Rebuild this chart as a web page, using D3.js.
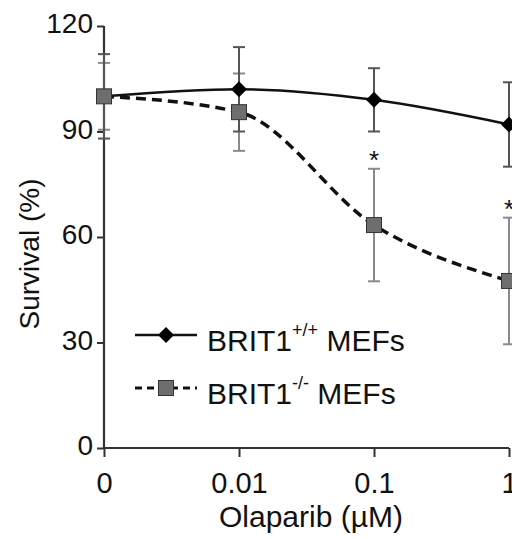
<!DOCTYPE html>
<html>
<head>
<meta charset="utf-8">
<script src="https://cdn.jsdelivr.net/npm/d3@7.9.0/dist/d3.min.js"></script>
<style>
  body { margin: 0; background: #fff; }
  svg { display: block; font-family: "Liberation Sans", Arial, sans-serif; }
</style>
</head>
<body>
<svg id="chart" width="512" height="539"></svg>
<script>
// doses (uM), shown as evenly spaced categories
const doses = ["0", "0.01", "0.1", "1"];
const yTicks = [0, 30, 60, 90, 120];

// BRIT1 +/+ MEFs
const wtMean = [100, 102, 99, 92];
const wtErr = [12, 12, 9, 12];

// BRIT1 -/- MEFs
const koMean = [100, 95.5, 63.4, 47.5];
const koErr = [9.5, 11, 16, 18];

// significance marks (dose -> y value of the star)
const starDoses = ["0.1", "1"];
const starY = [84, 70];

const svg = d3.select("#chart");
const tickFont = 28;
const titleFont = 30;

let x = d3.scalePoint().domain(doses).range([104, 509]);
let y = d3.scaleLinear().domain([0, 120]).range([448, 26]);

// axes
let yAxis = svg.append("g")
    .attr("transform", "translate(104,0)")
    .call(d3.axisLeft(y).tickValues(yTicks).tickSize(7).tickPadding(4));
yAxis.select(".domain").attr("stroke", "#333").attr("stroke-width", 2.2).attr("d", `M0,${y(120)}V${y(0)}`);
yAxis.selectAll(".tick line").attr("stroke", "#333").attr("stroke-width", 2);
yAxis.selectAll(".tick text").attr("font-size", tickFont).attr("fill", "#111")
    .attr("font-family", "Liberation Sans, Arial, sans-serif").attr("dy", "0.24em");

let xAxis = svg.append("g")
    .attr("transform", `translate(0,${y(0)})`)
    .call(d3.axisBottom(x).tickSize(9).tickPadding(15));
xAxis.select(".domain").attr("stroke", "#333").attr("stroke-width", 2.2).attr("d", `M${x("0")},0H${x("1")}`);
xAxis.selectAll(".tick line").attr("stroke", "#333").attr("stroke-width", 2);
xAxis.selectAll(".tick text").attr("font-size", 29).attr("fill", "#111")
    .attr("font-family", "Liberation Sans, Arial, sans-serif");

// axis titles
svg.append("text")
    .attr("x", 311).attr("y", 527)
    .attr("text-anchor", "middle")
    .attr("font-size", titleFont).attr("fill", "#111")
    .text("Olaparib (\u00b5M)");

svg.append("text")
    .attr("transform", "translate(39,254) rotate(-90)")
    .attr("text-anchor", "middle")
    .attr("font-size", 28).attr("fill", "#111")
    .text("Survival (%)");

// error bars
function drawErrors(means, errs, color, width) {
    let g = svg.append("g").attr("stroke", color).attr("stroke-width", width).attr("fill", "none");
    doses.forEach((d, i) => {
        let cx = x(d);
        let top = y(means[i] + errs[i]);
        let bot = y(means[i] - errs[i]);
        g.append("line").attr("x1", cx).attr("x2", cx).attr("y1", top).attr("y2", bot);
        g.append("line").attr("x1", cx - 6).attr("x2", cx + 6).attr("y1", top).attr("y2", top);
        g.append("line").attr("x1", cx - 6).attr("x2", cx + 6).attr("y1", bot).attr("y2", bot);
    });
}
drawErrors(koMean, koErr, "#8a8a8a", 2);
drawErrors(wtMean, wtErr, "#555", 2);

// curves
let line = d3.line().x((d, i) => x(doses[i])).y(d => y(d)).curve(d3.curveMonotoneX);

svg.append("path")
    .attr("d", line(koMean))
    .attr("fill", "none").attr("stroke", "#111")
    .attr("stroke-width", 3.5).attr("stroke-dasharray", "10,6");

svg.append("path")
    .attr("d", line(wtMean))
    .attr("fill", "none").attr("stroke", "#111")
    .attr("stroke-width", 2.5);

// markers
const diamond = d3.symbol().type(d3.symbolSquare).size(128);
function diamondAt(cx, cy) {
    svg.append("path")
        .attr("d", diamond())
        .attr("transform", `translate(${cx},${cy}) rotate(45)`)
        .attr("fill", "#000");
}
function squareAt(cx, cy) {
    svg.append("rect")
        .attr("x", cx - 7.5).attr("y", cy - 7.5)
        .attr("width", 15).attr("height", 15)
        .attr("fill", "#6e6e6e").attr("stroke", "#333").attr("stroke-width", 1);
}
doses.forEach((d, i) => {
    if (i > 0) diamondAt(x(d), y(wtMean[i]));
});
doses.forEach((d, i) => squareAt(x(d), y(koMean[i])));

// stars
starDoses.forEach((d, i) => {
    svg.append("text")
        .attr("x", x(d)).attr("y", y(starY[i]) + 16)
        .attr("text-anchor", "middle")
        .attr("font-size", 26).attr("fill", "#111")
        .text("*");
});

// legend
const legend = [
    { sup: "+/+", dashed: false, y: 335 },
    { sup: "-/-", dashed: true, y: 388 }
];
legend.forEach(l => {
    svg.append("line")
        .attr("x1", 135).attr("x2", 197).attr("y1", l.y).attr("y2", l.y)
        .attr("stroke", "#111")
        .attr("stroke-width", l.dashed ? 3 : 2.5)
        .attr("stroke-dasharray", l.dashed ? "7,5" : null);
    if (l.dashed) squareAt(166, l.y); else diamondAt(166, l.y);
    let t = svg.append("text")
        .attr("x", 207).attr("y", l.y + 16)
        .attr("font-size", 30).attr("fill", "#111");
    t.append("tspan").text("BRIT1");
    t.append("tspan").attr("font-size", 18).attr("dy", -15).text(l.sup);
    t.append("tspan").attr("dy", 15).text(" MEFs");
});
</script>
</body>
</html>
